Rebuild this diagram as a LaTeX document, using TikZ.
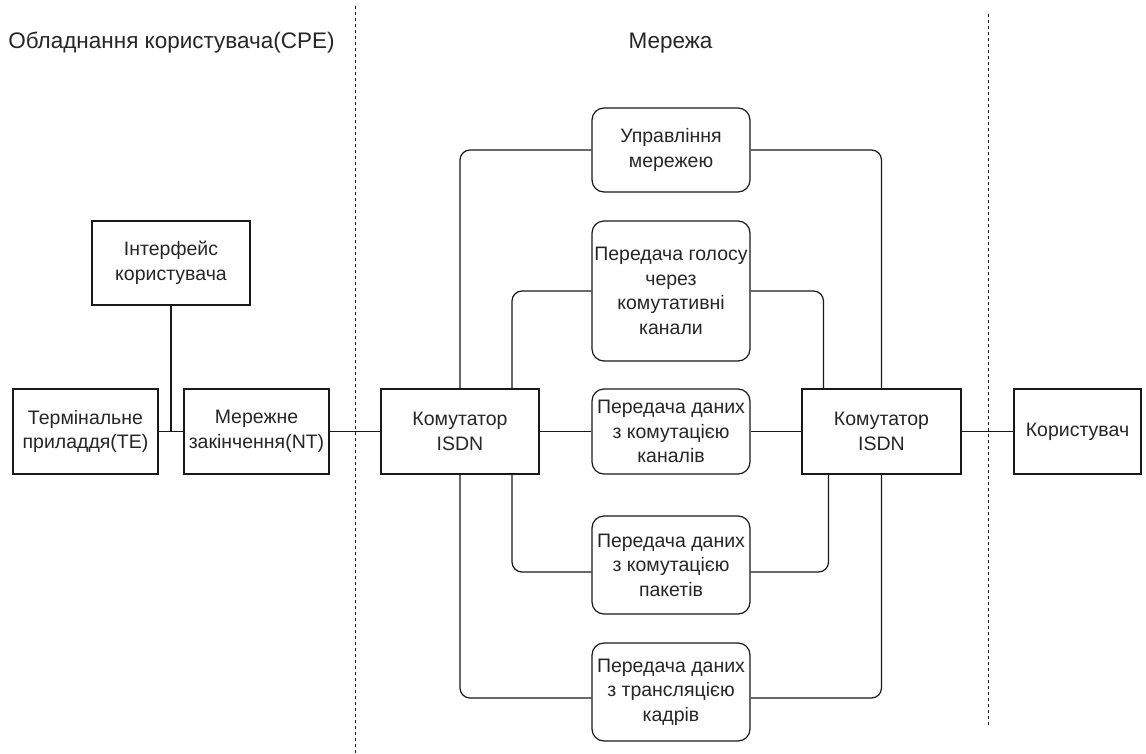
\documentclass[tikz,border=0pt]{standalone}
\usepackage{fontspec}
\setmainfont{Liberation Sans}
\usetikzlibrary{calc}
\begin{document}
\begin{tikzpicture}[x=1pt,y=-1pt,
  txt/.style={text=black!85,font=\fontsize{19.5}{24.5}\selectfont,align=center},
  title/.style={text=black!85,font=\fontsize{22.5}{27}\selectfont,anchor=base},
  box/.style={txt,draw=black!90,line width=1.2pt,inner sep=0pt},
  rbox/.style={box,rounded corners=12pt},
  link/.style={draw=black!90,line width=1.2pt},
  rlink/.style={link,rounded corners=10pt},
  zone/.style={draw=black!90,line width=0.9pt,dash pattern=on 3pt off 3pt}]
  \fill[white] (0,0) rectangle (1146,753);
  \useasboundingbox (0,0) rectangle (1146,753);

  % zone titles and separators
  \node[title] (tcpe) at (171.5,48) {Обладнання користувача(CPE)};
  \node[title] (tnet) at (670.5,48) {Мережа};
  \coordinate (d1a) at (355,6);   \coordinate (d1b) at (355,753);
  \coordinate (d2a) at (988,14);  \coordinate (d2b) at (988,727);
  \draw[zone] (d1a) -- (d1b);
  \draw[zone] (d2a) -- (d2b);

  % customer premises equipment
  \node[box,minimum width=158pt,minimum height=84pt] (iface) at (171,263) {Інтерфейс\\користувача};
  \node[box,minimum width=145pt,minimum height=85pt] (te) at (85.5,431.5) {Термінальне\\приладдя(TE)};
  \node[box,minimum width=145pt,minimum height=85pt] (nt) at (256.5,431.5) {Мережне\\закінчення(NT)};

  % network switches and user
  \node[box,minimum width=158pt,minimum height=85pt] (swL) at (460,431.5) {Комутатор\\ISDN};
  \node[box,minimum width=159pt,minimum height=85pt] (swR) at (881.5,431.5) {Комутатор\\ISDN};
  \node[box,minimum width=127pt,minimum height=85pt] (user) at (1077.5,431.5) {Користувач};

  % network services
  \node[rbox,minimum width=158pt,minimum height=84pt] (mgmt) at (671,150) {Управління\\мережею};
  \node[rbox,minimum width=158pt,minimum height=140pt] (voice) at (671,291) {Передача голосу\\через\\комутативні\\канали};
  \node[rbox,minimum width=158pt,minimum height=85pt] (circ) at (671,431.5) {Передача даних\\з комутацією\\каналів};
  \node[rbox,minimum width=158pt,minimum height=98pt] (pack) at (671,565) {Передача даних\\з комутацією\\пакетів};
  \node[rbox,minimum width=158pt,minimum height=98pt] (frame) at (671,692) {Передача даних\\з трансляцією\\кадрів};

  % CPE links
  \draw[link] (te.east) -- (nt.west);
  \draw[link] (iface.south) -- (iface.south |- te.east);
  \draw[link] (nt.east) -- (swL.west);

  % direct links
  \draw[link] (swL.east) -- (circ.west);
  \draw[link] (circ.east) -- (swR.west);
  \draw[link] (swR.east) -- (user.west);

  % looped links between the switches
  \draw[rlink] (swL.north) |- (mgmt.west);
  \draw[rlink] (mgmt.east) -| (swR.north);
  \draw[rlink] ([xshift=52pt]swL.north) |- (voice.west);
  \draw[rlink] (voice.east) -| ([xshift=-58pt]swR.north);
  \draw[rlink] ([xshift=52pt]swL.south) |- ([yshift=-7pt]pack.west);
  \draw[rlink] ([yshift=-7pt]pack.east) -| ([xshift=-53pt]swR.south);
  \draw[rlink] (swL.south) |- ([yshift=-6pt]frame.west);
  \draw[rlink] ([yshift=-6pt]frame.east) -| (swR.south);
\end{tikzpicture}
\end{document}
